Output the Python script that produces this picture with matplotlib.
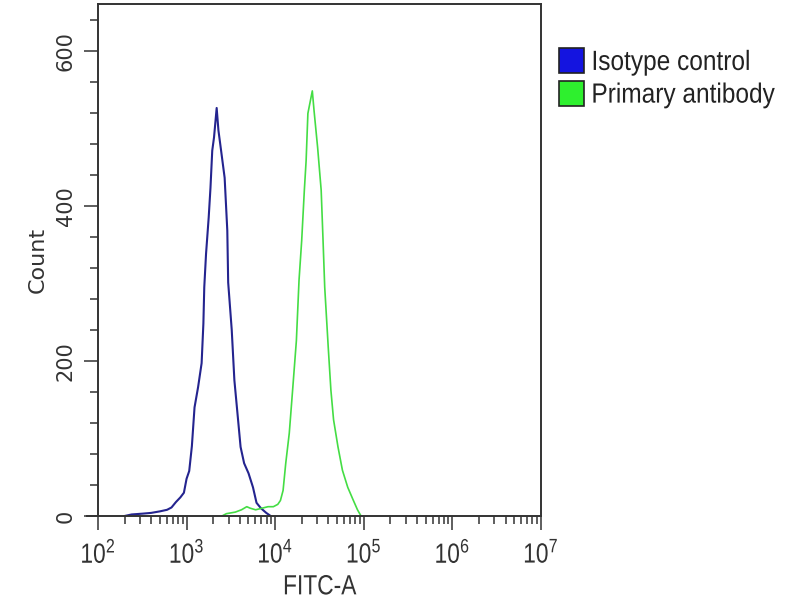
import numpy as np
import matplotlib
matplotlib.use('Agg')
import matplotlib.pyplot as plt
from matplotlib.patches import Patch
from matplotlib.patheffects import AbstractPathEffect
from matplotlib.transforms import Affine2D
from matplotlib.ticker import LogLocator, MultipleLocator, FixedLocator, FixedFormatter, NullFormatter

# --- data (log10 of FITC-A, event count) ---
blue_log = [2.30, 2.38, 2.50, 2.60, 2.70, 2.78, 2.83, 2.88, 2.93, 2.97,
            3.00, 3.03, 3.06, 3.09, 3.13, 3.17, 3.19, 3.20, 3.22, 3.25,
            3.27, 3.29, 3.31, 3.34, 3.36, 3.39, 3.43, 3.46, 3.47, 3.51,
            3.54, 3.58, 3.61, 3.65, 3.70, 3.75, 3.79, 3.84, 3.90, 3.95]
blue_count = [0, 2, 3, 4, 6, 8, 11, 18, 24, 30,
              48, 58, 90, 140, 166, 197, 248, 295, 338, 385,
              423, 471, 488, 526, 497, 471, 436, 368, 301, 240,
              175, 126, 89, 68, 55, 37, 17, 10, 4, 0]

green_log = [3.40, 3.45, 3.55, 3.62, 3.68, 3.72, 3.78, 3.85, 3.92, 3.98,
             4.03, 4.06, 4.09, 4.12, 4.16, 4.20, 4.24, 4.27, 4.30, 4.33,
             4.35, 4.37, 4.42, 4.44, 4.48, 4.52, 4.54, 4.56, 4.60, 4.63,
             4.66, 4.71, 4.76, 4.82, 4.88, 4.93, 4.97]
green_count = [0, 3, 5, 8, 12, 10, 8, 10, 12, 12,
               15, 20, 33, 68, 107, 166, 226, 304, 355, 420,
               458, 519, 548, 522, 475, 420, 359, 295, 217, 162,
               124, 89, 59, 37, 21, 8, 0]

series_labels = ['Isotype control', 'Primary antibody']
x_decades = [2, 3, 4, 5, 6, 7]
y_major = [0, 200, 400, 600]


class Squeeze(AbstractPathEffect):
    """Narrow the glyphs horizontally (no condensed font is installed)."""
    def __init__(self, sx, anchor='center'):
        super().__init__()
        self.sx = sx
        self.anchor = anchor

    def draw_path(self, renderer, gc, tpath, affine, rgbFace=None):
        ext = tpath.get_extents()
        cx = ext.x0 if self.anchor == 'left' else 0.5 * (ext.x0 + ext.x1)
        squeeze = Affine2D().translate(-cx, 0).scale(self.sx, 1).translate(cx, 0)
        renderer.draw_path(gc, tpath, squeeze + affine, rgbFace)


plt.rcParams['font.family'] = ['Liberation Sans', 'DejaVu Sans']
plt.rcParams['mathtext.fontset'] = 'custom'
plt.rcParams['mathtext.rm'] = 'Liberation Sans'
plt.rcParams['mathtext.it'] = 'Liberation Sans'
plt.rcParams['mathtext.bf'] = 'Liberation Sans'

fig = plt.figure(figsize=(8, 6), dpi=100)
ax = fig.add_axes([0.1225, 0.14, 0.5535, 0.8533])

ax.plot(10 ** np.array(blue_log), blue_count, color='#24248f', lw=1.5)
ax.plot(10 ** np.array(green_log), green_count, color='#44dd44', lw=1.2)

ax.set_xscale('log')
ax.set_xlim(1e2, 1e7)
ax.set_ylim(0, 660)

# ticks
ax.xaxis.set_major_locator(FixedLocator([10.0 ** d for d in x_decades]))
ax.xaxis.set_major_formatter(FixedFormatter([r'$\mathregular{10^{%d}}$' % d for d in x_decades]))
ax.xaxis.set_minor_locator(LogLocator(base=10, subs=np.arange(2, 10), numticks=20))
ax.xaxis.set_minor_formatter(NullFormatter())
ax.yaxis.set_major_locator(FixedLocator(y_major))
ax.yaxis.set_minor_locator(MultipleLocator(40))
ax.set_yticklabels([str(v) for v in y_major], rotation=90, va='center',
                   family='DejaVu Sans', fontsize=15, color='#333333')

ax.tick_params(which='both', direction='out', color='#333333', width=1.1,
               top=False, right=False)
ax.tick_params(which='major', length=10)
ax.tick_params(which='minor', length=6)
ax.tick_params(axis='x', labelsize=20, pad=8, labelcolor='#333333')
ax.tick_params(axis='y', pad=6)
for lab in ax.get_xticklabels():
    lab.set_path_effects([Squeeze(0.82)])

for sp in ax.spines.values():
    sp.set_color('#333333')
    sp.set_linewidth(1.4)

# x axis line runs a little past the left spine
ax.plot([-0.025, 0], [0, 0], transform=ax.transAxes, color='#333333',
        lw=1.4, clip_on=False)

xl = ax.set_xlabel('FITC-A', fontsize=20, color='#333333', labelpad=4)
xl.set_path_effects([Squeeze(0.82)])
ax.set_ylabel('Count', family='DejaVu Sans', fontsize=16, color='#333333')
ax.yaxis.set_label_coords(-0.113, 0.5)

handles = [Patch(facecolor='#1414e0', edgecolor='#222222', lw=1.2),
           Patch(facecolor='#2ef02e', edgecolor='#222222', lw=1.2)]
leg = fig.legend(handles, series_labels, loc='upper left', bbox_to_anchor=(0.699, 0.92),
                 frameon=False, borderpad=0, borderaxespad=0,
                 prop={'family': 'Liberation Sans', 'size': 20},
                 handlelength=0.9, handleheight=1.0, handletextpad=0.25,
                 labelspacing=0.17, labelcolor='#222222')
for t in leg.get_texts():
    t.set_path_effects([Squeeze(0.88, anchor='left')])

fig.savefig('out.png', dpi=100)
